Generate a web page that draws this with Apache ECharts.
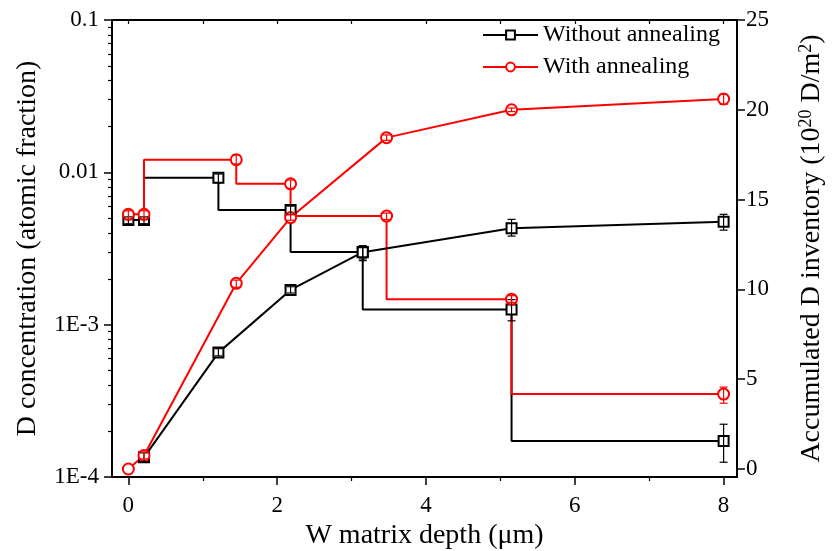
<!DOCTYPE html>
<html>
<head>
<meta charset="utf-8">
<title>D depth profile</title>
<script src="https://cdn.jsdelivr.net/npm/echarts@6/dist/echarts.min.js"></script>
<style>
html, body { margin: 0; padding: 0; background: #fff; }
#chart { width: 837px; height: 551px; }
</style>
</head>
<body>
<div id="chart"></div>
<script>
// depth of each layer boundary (um)
const blackDepth = [0, 0.21, 1.21, 2.18, 3.15, 5.15, 8];
const redDepth = [0, 0.21, 1.45, 2.18, 3.47, 5.15, 8];

// D concentration, atomic fraction (left axis, log)
const blackConc = [4.86e-3, 4.86e-3, 9.2e-3, 5.65e-3, 3.0e-3, 1.26e-3, 1.72e-4];
const blackConcLo = [4.6e-3, 4.6e-3, 8.55e-3, 5.3e-3, 2.7e-3, 1.06e-3, 1.25e-4];
const blackConcHi = [5.1e-3, 5.1e-3, 9.75e-3, 6.0e-3, 3.3e-3, 1.46e-3, 2.22e-4];
const redConc = [5.3e-3, 5.3e-3, 0.0121, 8.4e-3, 5.16e-3, 1.47e-3, 3.5e-4];
const redConcLo = [4.9e-3, 4.9e-3, 0.01135, 7.85e-3, 4.9e-3, 1.4e-3, 3.05e-4];
const redConcHi = [5.6e-3, 5.6e-3, 0.013, 8.9e-3, 5.4e-3, 1.55e-3, 3.89e-4];

// accumulated D inventory, 1e20 D/m2 (right axis)
const blackInv = [null, 0.65, 6.48, 9.97, 12.07, 13.4, 13.77];
const blackInvLo = [null, 0.4, 6.3, 9.8, 11.6, 12.97, 13.3];
const blackInvHi = [null, 0.9, 6.7, 10.15, 12.4, 13.9, 14.18];
const redInv = [0, 0.75, 10.34, 14.0, 18.45, 20.0, 20.6];
const redInvLo = [0, 0.56, 10.12, 13.85, 18.3, 19.9, 20.3];
const redInvHi = [0, 0.95, 10.52, 14.15, 18.6, 20.1, 20.86];

// ticks
const xTicks = [0, 2, 4, 6, 8];
const xMinorTicks = [1, 3, 5, 7];
const xAllTicks = [0, 1, 2, 3, 4, 5, 6, 7, 8];
const leftTickLabels = ['1E-4', '1E-3', '0.01', '0.1'];
const rightTicks = [0, 5, 10, 15, 20, 25];

const FONT = 'Liberation Serif';
const RED = '#ff0000';

// minor ticks of the log axis (2..9 of each decade), in log10 units
let leftMinor = [];
for (let d = -4; d < -1; d++) {
    for (let k = 2; k < 10; k++) leftMinor.push(d + Math.log10(k));
}

function pairs(xs, ys) {
    let out = [];
    for (let i in xs) {
        if (ys[i] != null) out.push([xs[i], ys[i]]);
    }
    return out;
}

function bars(xs, lo, hi) {
    let out = [];
    for (let i in xs) {
        if (lo[i] != null && hi[i] > lo[i]) out.push([xs[i], lo[i], hi[i]]);
    }
    return out;
}

function errRender(color) {
    return function (params, api) {
        let x = api.value(0);
        let b = api.coord([x, api.value(1)]);
        let t = api.coord([x, api.value(2)]);
        let w = 4;
        let st = { stroke: color, lineWidth: 1.2 };
        return {
            type: 'group',
            children: [
                { type: 'line', shape: { x1: t[0], y1: t[1], x2: b[0], y2: b[1] }, style: st },
                { type: 'line', shape: { x1: t[0] - w, y1: t[1], x2: t[0] + w, y2: t[1] }, style: st },
                { type: 'line', shape: { x1: b[0] - w, y1: b[1], x2: b[0] + w, y2: b[1] }, style: st },
            ]
        };
    };
}

const axisLine = { show: true, onZero: false, lineStyle: { color: '#000', width: 2 } };
const noLine = { show: false, onZero: false };
const labelStyle = { color: '#000', fontFamily: FONT, fontSize: 23 };
const nameStyle = { color: '#000', fontFamily: FONT, fontSize: 28 };

let myChart = echarts.init(document.getElementById('chart'));
let option = {
    backgroundColor: '#fff',
    animation: false,
    grid: { left: 112, right: 100, top: 20, bottom: 74, outerBoundsMode: 'none' },
    legend: {
        data: ['Without annealing', 'With annealing'],
        orient: 'vertical',
        left: 482,
        top: 23,
        padding: 0,
        itemWidth: 55,
        itemHeight: 11,
        itemGap: 8,
        textStyle: { color: '#000', fontFamily: FONT, fontSize: 24 },
    },
    xAxis: [{
        type: 'value',
        min: -0.22,
        max: 8.18,
        name: 'W matrix depth (μm)',
        nameLocation: 'middle',
        nameGap: 42,
        nameTextStyle: nameStyle,
        axisLine: axisLine,
        axisTick: { customValues: xTicks, length: 8, lineStyle: { width: 1.5, color: '#000' } },
        axisLabel: { customValues: xTicks, margin: 17, ...labelStyle },
        splitLine: { show: false },
    }, {
        type: 'value',
        position: 'top',
        min: -0.22,
        max: 8.18,
        axisLine: axisLine,
        axisTick: { customValues: xAllTicks, inside: true, length: 4, lineStyle: { width: 1.2, color: '#000' } },
        axisLabel: { show: false },
        splitLine: { show: false },
    }, {
        type: 'value',
        position: 'bottom',
        min: -0.22,
        max: 8.18,
        axisLine: noLine,
        axisTick: { customValues: xMinorTicks, length: 4, lineStyle: { width: 1.2, color: '#000' } },
        axisLabel: { show: false },
        splitLine: { show: false },
    }],
    yAxis: [{
        type: 'log',
        logBase: 10,
        min: 1e-4,
        max: 0.1,
        position: 'left',
        name: 'D concentration (atomic fraction)',
        nameLocation: 'middle',
        nameGap: 70,
        nameTextStyle: nameStyle,
        axisLine: axisLine,
        axisTick: { length: 8, lineStyle: { width: 1.5, color: '#000' } },
        axisLabel: {
            margin: 13,
            ...labelStyle,
            formatter: function (v) {
                let e = Math.round(Math.log10(v));
                return leftTickLabels[e + 4] || '';
            }
        },
        splitLine: { show: false },
    }, {
        type: 'value',
        position: 'right',
        min: -0.445,
        max: 25,
        name: 'Accumulated D inventory (10{sup|20} D/m{sup|2})',
        nameLocation: 'middle',
        nameGap: 60,
        nameTextStyle: {
            ...nameStyle,
            rich: {
                sup: { fontFamily: FONT, fontSize: 18, color: '#000', verticalAlign: 'top', padding: [0, 0, 12, 0] }
            }
        },
        axisLine: axisLine,
        axisTick: { customValues: rightTicks, length: 8, lineStyle: { width: 1.5, color: '#000' } },
        axisLabel: { customValues: rightTicks, margin: 9, ...labelStyle },
        splitLine: { show: false },
    }, {
        type: 'value',
        position: 'left',
        min: -4,
        max: -1,
        axisLine: noLine,
        axisTick: { customValues: leftMinor, length: 4, lineStyle: { width: 1.2, color: '#000' } },
        axisLabel: { show: false },
        splitLine: { show: false },
    }],
    series: [{
        name: 'Without annealing',
        type: 'line',
        step: 'start',
        yAxisIndex: 0,
        data: pairs(blackDepth, blackConc),
        symbol: 'emptyRect',
        symbolSize: 10,
        color: '#000',
        lineStyle: { color: '#000', width: 2 },
        itemStyle: { color: '#000', borderWidth: 1.3 },
        z: 2,
    }, {
        name: 'With annealing',
        type: 'line',
        step: 'start',
        yAxisIndex: 0,
        data: pairs(redDepth, redConc),
        symbol: 'emptyCircle',
        symbolSize: 11,
        color: RED,
        lineStyle: { color: RED, width: 2 },
        itemStyle: { color: RED, borderWidth: 1.3 },
        z: 2,
    }, {
        name: 'Without annealing',
        type: 'line',
        yAxisIndex: 1,
        data: pairs(blackDepth, blackInv),
        symbol: 'emptyRect',
        symbolSize: 10,
        color: '#000',
        lineStyle: { color: '#000', width: 2 },
        itemStyle: { color: '#000', borderWidth: 1.3 },
        z: 2,
    }, {
        name: 'With annealing',
        type: 'line',
        yAxisIndex: 1,
        data: pairs(redDepth, redInv),
        symbol: 'emptyCircle',
        symbolSize: 11,
        color: RED,
        lineStyle: { color: RED, width: 2 },
        itemStyle: { color: RED, borderWidth: 1.3 },
        z: 2,
    }, {
        name: 'Without annealing',
        type: 'custom',
        yAxisIndex: 0,
        renderItem: errRender('#000'),
        encode: { x: 0, y: [1, 2] },
        data: bars(blackDepth, blackConcLo, blackConcHi),
        z: 3,
    }, {
        name: 'With annealing',
        type: 'custom',
        yAxisIndex: 0,
        renderItem: errRender(RED),
        encode: { x: 0, y: [1, 2] },
        data: bars(redDepth, redConcLo, redConcHi),
        z: 3,
    }, {
        name: 'Without annealing',
        type: 'custom',
        yAxisIndex: 1,
        renderItem: errRender('#000'),
        encode: { x: 0, y: [1, 2] },
        data: bars(blackDepth, blackInvLo, blackInvHi),
        z: 3,
    }, {
        name: 'With annealing',
        type: 'custom',
        yAxisIndex: 1,
        renderItem: errRender(RED),
        encode: { x: 0, y: [1, 2] },
        data: bars(redDepth, redInvLo, redInvHi),
        z: 3,
    }],
};
myChart.setOption(option);
</script>
</body>
</html>
